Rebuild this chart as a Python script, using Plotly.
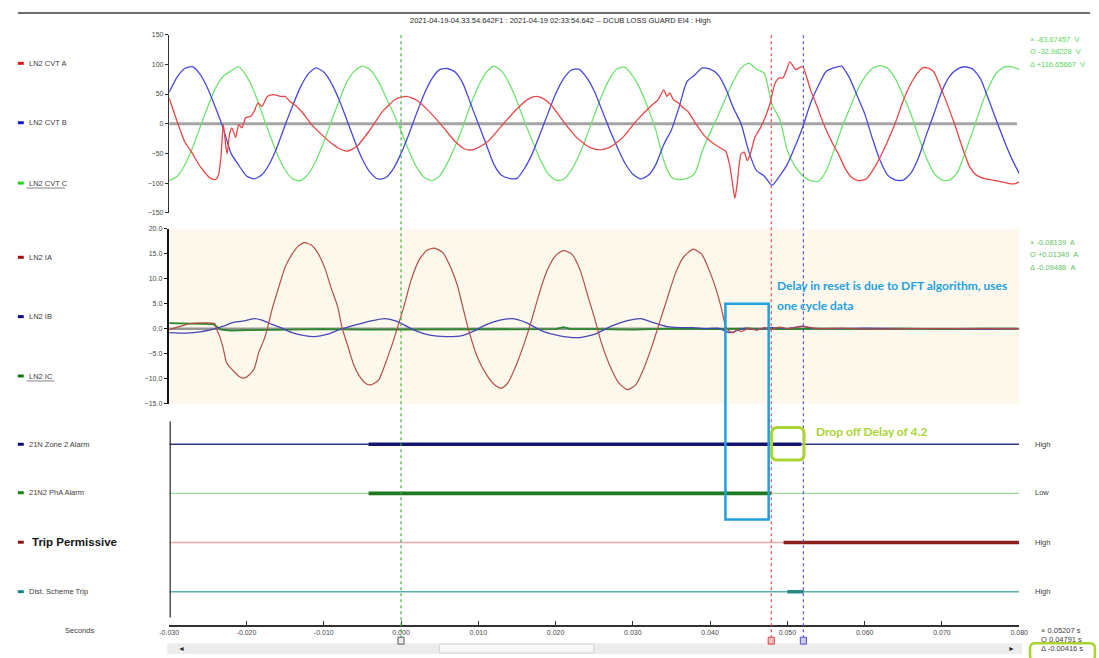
import plotly.graph_objects as go

W, H = 1099, 658


def px(x):
    return x / W


def py(y):
    return 1 - y / H


# ---------------- data ----------------
X_TICKS = [-0.03, -0.02, -0.01, 0.0, 0.01, 0.02, 0.03, 0.04, 0.05, 0.06, 0.07, 0.08]
X_TICK_TEXT = ["-0.030", "-0.020", "-0.010", "0.000", "0.010", "0.020",
               "0.030", "0.040", "0.050", "0.060", "0.070", "0.080"]
V_TICKS = [-150, -100, -50, 0, 50, 100, 150]
I_TICKS = [-15, -10, -5, 0, 5, 10, 15, 20]

# time grid in milliseconds for the smooth voltage phases
T_MS = list(range(-30, 81))

CVT_B = [53, 78, 93, 96, 83, 59, 27, -8, -50, -70,
         -88, -93, -86, -67, -38, -2, 31, 62, 84, 94,
         87, 68, 40, 6, -29, -60, -82, -93, -91, -76,
         -50, -18, 17, 50, 76, 91, 93, 87, 68, 34,
         0, -34, -68, -87, -92, -92, -75, -50, -17, 17,
         50, 75, 90, 92, 78, 55, 23, -10, -40, -67,
         -85, -93, -87, -68, -35, -10, 29, 71, 82, 94,
         92, 83, 60, 27, 0, -47, -79, -88, -104, -88,
         -68, -38, -5, 35, 64, 88, 94, 97, 78, 48,
         17, -25, -62, -87, -95, -95, -83, -56, -18, 18,
         55, 80, 92, 96, 92, 75, 42, 7, -27, -58,
         -84]

CVT_C = [-96, -89, -70, -41, -6, 29, 60, 80, 89, 96,
         80, 54, 18, -18, -52, -78, -93, -96, -85, -62,
         -31, 5, 39, 71, 89, 97, 91, 73, 46, 18,
         -12, -45, -73, -90, -96, -88, -66, -38, -5, 32,
         63, 86, 97, 89, 68, 38, 3, -29, -60, -84,
         -95, -94, -79, -54, -22, 14, 48, 76, 93, 95,
         80, 57, 25, -12, -62, -90, -94, -92, -84, -46,
         -15, 13, 43, 71, 94, 102, 92, 85, 32, 8,
         -45, -72, -88, -96, -97, -80, -46, -8, 24, 55,
         78, 93, 98, 93, 75, 47, 16, -23, -58, -84,
         -95, -95, -82, -48, -12, 27, 60, 85, 95, 96,
         91]

CVT_A_T = [-30, -29, -28, -27, -26, -25, -24.5, -24.0, -23.6, -23.3,
           -23.0, -22.7, -22.5, -22.2, -21.9, -21.4, -21.0, -20.6, -20.1, -19.4,
           -19.0, -18.5, -18.0, -17.3, -16.5, -15.6, -15.0, -14.4, -13.5, -12.7,
           -11.6, -10.3, -9.1, -7.8, -6.9, -5.7, -4.0, -2.3, -0.6, 0.7,
           2.0, 3.7, 5.4, 7.0, 8.3, 9.2, 10.0, 11.3, 13.0, 14.7,
           16.4, 17.5, 18.3, 19.4, 21.0, 22.7, 24.4, 25.7, 27.0, 28.7,
           30.4, 32.1, 33.3, 34.0, 34.4, 34.8, 35.2, 35.9, 36.5, 37.1,
           38.2, 39.3, 40.3, 41.6, 42.0, 42.5, 42.9, 43.2, 43.5, 44.0,
           44.4, 44.8, 45.2, 45.8, 46.5, 47.1, 47.7, 48.4, 48.9, 49.4,
           49.9, 50.3, 50.7, 51.1, 51.5, 52.0, 52.4, 53.0, 53.9, 54.7,
           55.8, 56.6, 57.5, 58.3, 59.2, 60.2, 61.3, 62.6, 63.9, 65.1,
           66.4, 67.5, 68.1, 68.9, 70.2, 71.5, 72.8, 73.6, 74.5, 75.7,
           77.4, 78.7, 79.5, 80.0]
CVT_A = [43, 5, -30, -50, -72, -88, -93, -94, -85, -55,
         -1, -35, -51, -18, -7, -23, -1, -7, 10, 13,
         21, 35, 29, 46, 49, 46, 46, 38, 29, 18,
         -1, -18, -32, -43, -46, -38, -10, 22, 42, 46,
         40, 20, -5, -30, -43, -44, -40, -29, -4, 21,
         41, 46, 43, 32, 4, -23, -40, -44, -40, -23,
         4, 27, 41, 57, 46, 52, 41, 35, 27, 21,
         -1, -21, -32, -43, -46, -68, -101, -126, -101, -51,
         -48, -62, -51, -23, -7, 10, 32, 68, 77, 77,
         91, 104, 98, 91, 94, 96, 82, 57, 27, -1,
         -32, -51, -76, -90, -96, -93, -73, -40, -1, 43,
         77, 94, 94, 88, 49, 4, -46, -73, -87, -93,
         -97, -101, -101, -98]

IA_T = [-30, -28.5, -27.3, -24.1, -23.9, -23.5, -23.0, -22.6, -22.2, -21.6,
        -20.9, -20.3, -19.7, -19.0, -18.4, -17.7, -17.3, -16.7, -15.8, -15.0,
        -14.1, -13.3, -12.5, -11.6, -10.8, -9.9, -9.1, -8.2, -7.6, -6.9,
        -6.1, -5.2, -4.4, -3.8, -2.9, -2.1, -1.2, -0.4, 0.5, 1.3,
        2.4, 3.4, 4.3, 5.4, 6.4, 7.3, 7.9, 8.7, 9.8, 11.1,
        12.1, 13.0, 13.8, 14.9, 16.0, 16.8, 17.9, 18.9, 20.0, 21.0,
        22.1, 23.2, 24.2, 25.1, 25.9, 27.0, 28.2, 29.3, 30.4, 31.4,
        32.5, 33.3, 34.4, 35.5, 36.5, 37.8, 38.9, 39.9, 40.8, 41.4,
        42.0, 42.5, 43.0, 43.5, 44.0, 45.0, 46.0, 47.0, 48.0, 49.0,
        50.0, 52.0, 54.0, 57.0, 60.0, 65.0, 70.0, 75.0, 80.0]
IA = [-0.2, 0.5, 1.0, 1.0, 0.0, -1.4, -4.0, -6.7, -7.6, -8.6,
      -9.6, -9.9, -9.3, -8.0, -4.7, -2.1, 0.0, 3.8, 8.4, 12.3,
      14.9, 16.5, 17.2, 16.7, 15.2, 12.3, 8.4, 4.4, 0.0, -3.4,
      -7.3, -9.9, -11.1, -11.2, -10.3, -7.3, -3.4, 0.5, 5.1, 9.7,
      13.9, 15.7, 16.1, 15.2, 12.3, 8.6, 4.9, 0.0, -5.4, -9.3,
      -11.2, -11.9, -10.9, -7.3, -2.7, 1.2, 7.1, 11.6, 14.6, 15.6,
      14.9, 11.6, 6.4, 1.8, -2.7, -7.3, -10.9, -12.2, -11.2, -8.0,
      -3.4, 0.5, 5.8, 11.0, 14.2, 15.9, 14.9, 11.6, 7.7, 4.4,
      0.5, -0.5, -0.8, -0.2, -0.6, 0.1, -0.3, 0.2, -0.1, 0.3,
      0.0, 0.4, 0.0, 0.1, -0.1, 0.0, 0.0, 0.0, 0.0]

IB_T = [-30, -27.7, -26, -24.3, -23, -21.8, -20.5, -19, -18, -16.7,
        -15.6, -14.1, -12.5, -11.2, -9.5, -7.8, -6.1, -4.0, -2.1, -0.6,
        0.7, 2.0, 3.7, 5.8, 7.9, 9.4, 11.1, 12.8, 14.5, 16.2,
        18.3, 20.4, 22.9, 25.1, 27.2, 29.3, 31.0, 32.7, 34.4, 36.1,
        37.8, 39.5, 41.0, 42.5, 43.3, 44.6, 46, 48, 50, 52,
        53, 56, 60, 65, 70, 75, 80]
IB = [-0.8, -0.9, -0.65, -0.1, 0.5, 1.2, 1.5, 2.0, 1.7, 0.85,
      0.2, -0.8, -1.4, -1.6, -1.1, -0.1, 0.65, 1.5, 2.0, 1.5,
      0.5, -0.5, -1.3, -1.6, -1.4, -0.5, 0.85, 1.7, 2.0, 1.2,
      -0.5, -1.4, -1.8, -1.1, 0.5, 1.6, 2.0, 1.2, 0.4, 0.2,
      0.2, 0.0, 0.1, -0.8, -0.5, 0.1, -0.2, 0.2, 0.0, 0.5,
      0.1, 0.0, 0.1, 0.0, 0.0, -0.1, 0.0]

IC_T = [-30, -25, -24.3, -23.3, -22, -20, -15, -10, -5, 0,
        5, 10, 15, 20, 21, 22, 25, 30, 35, 40,
        45, 50, 55, 60, 65, 70, 75, 80]
IC = [1.1, 1.0, 0.9, -0.2, -0.4, -0.3, -0.2, -0.1, -0.2, -0.2,
      -0.1, -0.1, -0.2, -0.1, 0.3, -0.1, -0.1, -0.2, 0.0, -0.1,
      0.0, -0.1, 0.0, -0.1, 0.0, -0.1, 0.0, 0.0]

# digital channels: [on, off] in seconds
DIGITAL_NAMES = ["21N Zone 2 Alarm", "21N2 PhA Alarm", "Trip Permissive", "Dist. Scheme Trip"]
DIGITAL_LEVEL = [4, 3, 2, 1]
DIGITAL_ON = [[-0.0042, 0.0518], [-0.0042, 0.0479], [0.0495, 0.0800], [0.0500, 0.0521]]
DIGITAL_STATE = ["High", "Low", "High", "High"]

X_MIN, X_MAX = -0.030, 0.080
CURSOR_REF = 0.0
CURSOR_O = 0.04791
CURSOR_X = 0.05207

V_READ = ["\u00d7 -83.67457  V", "O -32.98228  V", "\u0394 +116.65667  V"]
I_READ = ["\u00d7 -0.08139  A", "O +0.01349  A", "\u0394 -0.09488  A"]
T_READ = ["\u00d7 0.05207 s", "O 0.04791 s", "\u0394 -0.00416 s"]

TITLE = "2021-04-19-04.33.54.642F1 : 2021-04-19 02:33:54.642 -- DCUB LOSS GUARD EI4 : High"

# ---------------- styling ----------------
FONT = "Liberation Sans"
C_VA, C_VB, C_VC = "rgb(232,70,70)", "rgb(72,72,222)", "rgb(110,228,110)"
C_IA, C_IB, C_IC = "rgb(178,78,70)", "rgb(70,70,185)", "rgb(40,135,40)"
DIG_THIN = ["rgb(50,50,130)", "rgb(160,215,160)", "rgb(228,170,170)", "rgb(90,175,175)"]
DIG_THICK = ["rgb(20,20,110)", "rgb(30,120,30)", "rgb(140,30,30)", "rgb(40,135,135)"]
ANN_BLUE = "rgb(30,160,225)"
ANN_GREEN = "rgb(170,212,50)"


def ms(ts):
    return [t / 1000 for t in ts]


fig = go.Figure()

line_kw = dict(shape="spline", smoothing=0.6)
fig.add_trace(go.Scatter(x=ms(T_MS), y=CVT_C, mode="lines", line=dict(color=C_VC, width=1.3, **line_kw), yaxis="y", xaxis="x"))
fig.add_trace(go.Scatter(x=ms(T_MS), y=CVT_B, mode="lines", line=dict(color=C_VB, width=1.3, **line_kw), yaxis="y", xaxis="x"))
fig.add_trace(go.Scatter(x=ms(CVT_A_T), y=CVT_A, mode="lines", line=dict(color=C_VA, width=1.3, **line_kw), yaxis="y", xaxis="x"))

fig.add_trace(go.Scatter(x=ms(IC_T), y=IC, mode="lines", line=dict(color=C_IC, width=1.8), yaxis="y2", xaxis="x"))
fig.add_trace(go.Scatter(x=ms(IB_T), y=IB, mode="lines", line=dict(color=C_IB, width=1.3, **line_kw), yaxis="y2", xaxis="x"))
fig.add_trace(go.Scatter(x=ms(IA_T), y=IA, mode="lines", line=dict(color=C_IA, width=1.2, **line_kw), yaxis="y2", xaxis="x"))

for i in range(len(DIGITAL_NAMES)):
    lv = DIGITAL_LEVEL[i]
    fig.add_trace(go.Scatter(x=[X_MIN, X_MAX], y=[lv, lv], mode="lines",
                             line=dict(color=DIG_THIN[i], width=1.4), yaxis="y3", xaxis="x"))
    fig.add_trace(go.Scatter(x=DIGITAL_ON[i], y=[lv, lv], mode="lines",
                             line=dict(color=DIG_THICK[i], width=3.6), yaxis="y3", xaxis="x"))

shapes = []
# current panel background
shapes.append(dict(type="rect", xref="x", yref="y2", x0=X_MIN, x1=X_MAX, y0=-15, y1=20,
                   fillcolor="rgb(253,248,236)", line=dict(width=0), layer="below"))
# zero lines
shapes.append(dict(type="line", xref="x", yref="y", x0=X_MIN, x1=X_MAX - 0.0003, y0=0, y1=0,
                   line=dict(color="rgb(165,165,165)", width=3), layer="below"))
shapes.append(dict(type="line", xref="x", yref="y2", x0=X_MIN, x1=X_MAX - 0.0003, y0=0, y1=0,
                   line=dict(color="rgb(150,150,150)", width=2.5), layer="below"))
# digital panel axis line
shapes.append(dict(type="line", xref="paper", yref="paper", x0=px(163), x1=px(163), y0=py(620), y1=py(422),
                   line=dict(color="rgb(40,40,40)", width=1.2)))
# cursors
for xc, col in [(CURSOR_REF, "rgb(70,175,70)"), (CURSOR_O, "rgb(230,80,80)"), (CURSOR_X, "rgb(90,90,215)")]:
    shapes.append(dict(type="line", xref="x", yref="paper", x0=xc, x1=xc, y0=py(641), y1=py(31),
                       line=dict(color=col, width=1.2, dash="dot")))
# cursor flags below the axis
for xc, col, fill in [(CURSOR_REF, "rgb(90,90,90)", "rgb(235,235,235)"),
                      (CURSOR_O, "rgb(210,70,70)", "rgb(240,190,190)"),
                      (CURSOR_X, "rgb(80,80,200)", "rgb(200,200,240)")]:
    shapes.append(dict(type="rect", xref="x", yref="paper", x0=xc - 0.0004, x1=xc + 0.0004,
                       y0=py(647), y1=py(640), fillcolor=fill, line=dict(color=col, width=1)))
# top rule
shapes.append(dict(type="line", xref="paper", yref="paper", x0=px(8), x1=1, y0=py(9), y1=py(9),
                   line=dict(color="rgb(60,60,60)", width=1.5)))
# scrollbar
shapes.append(dict(type="rect", xref="paper", yref="paper", x0=px(160), x1=px(1030), y0=py(657), y1=py(646),
                   fillcolor="rgb(236,236,236)", line=dict(width=0), layer="below"))
shapes.append(dict(type="rect", xref="paper", yref="paper", x0=px(437), x1=px(594), y0=py(656), y1=py(647),
                   fillcolor="rgb(248,248,248)", line=dict(color="rgb(215,215,215)", width=1), layer="below"))
# legend swatches
LEG_ROWS = [(60, "rgb(225,20,20)"), (120, "rgb(20,20,200)"), (181, "rgb(30,210,30)"),
            (256, "rgb(160,10,10)"), (316, "rgb(10,10,130)"), (376, "rgb(10,120,10)"),
            (445, "rgb(10,10,110)"), (494, "rgb(20,130,20)"), (544, "rgb(130,20,20)"), (594, "rgb(20,130,130)")]
for yy, col in LEG_ROWS:
    shapes.append(dict(type="rect", xref="paper", yref="paper", x0=px(8), x1=px(14), y0=py(yy + 1.5), y1=py(yy - 1.5),
                       fillcolor=col, line=dict(width=0)))
# underlines
shapes.append(dict(type="line", xref="paper", yref="paper", x0=px(17), x1=px(56), y0=py(186), y1=py(186),
                   line=dict(color="rgb(130,130,130)", width=1)))
shapes.append(dict(type="line", xref="paper", yref="paper", x0=px(17), x1=px(45), y0=py(381), y1=py(381),
                   line=dict(color="rgb(130,130,130)", width=1)))
# annotation boxes
shapes.append(dict(type="rect", xref="paper", yref="paper", x0=px(728), x1=px(772), y0=py(521), y1=py(303),
                   line=dict(color=ANN_BLUE, width=2.5)))


def rounded(x0, y0, x1, y1, r):
    X0, X1 = px(x0), px(x1)
    Y0, Y1 = py(y0), py(y1)
    rx, ry = r / W, r / H
    return (f"M {X0 + rx},{Y0} L {X1 - rx},{Y0} Q {X1},{Y0} {X1},{Y0 - ry} "
            f"L {X1},{Y1 + ry} Q {X1},{Y1} {X1 - rx},{Y1} L {X0 + rx},{Y1} "
            f"Q {X0},{Y1} {X0},{Y1 + ry} L {X0},{Y0 - ry} Q {X0},{Y0} {X0 + rx},{Y0} Z")


shapes.append(dict(type="path", xref="paper", yref="paper", path=rounded(775, 428, 808, 461, 6),
                   line=dict(color=ANN_GREEN, width=3)))
shapes.append(dict(type="path", xref="paper", yref="paper", path=rounded(1038, 646, 1104, 664, 5),
                   line=dict(color=ANN_GREEN, width=2.5)))

annotations = []


def txt(x, y, s, size=7.5, color="rgb(60,60,60)", anchor="left", family=FONT):
    annotations.append(dict(xref="paper", yref="paper", x=px(x), y=py(y), text=s, showarrow=False,
                            xanchor=anchor, yanchor="middle", font=dict(size=size, color=color, family=family)))


txt(560, 17, TITLE, size=7.5, color="rgb(40,40,40)", anchor="center")
LEFT_LABELS = [(60, "LN2 CVT A"), (120, "LN2 CVT B"), (181, "LN2 CVT C"),
               (256, "LN2 IA"), (316, "LN2 IB"), (376, "LN2 IC"),
               (445, "21N Zone 2 Alarm"), (494, "21N2 PhA Alarm"), (594, "Dist. Scheme Trip")]
for yy, s in LEFT_LABELS:
    txt(17, yy, s)
txt(20, 544, "<b>Trip Permissive</b>", size=11.5, color="rgb(20,20,20)")
txt(88, 633, "Seconds", anchor="right")

for i, yy in enumerate([445, 494, 544, 594]):
    txt(1041, yy, DIGITAL_STATE[i])
for i, s in enumerate(V_READ):
    txt(1036, 36 + 12.5 * i, s, size=7.5, color="rgb(90,215,90)")
for i, s in enumerate(I_READ):
    txt(1036, 241 + 12.5 * i, s, size=7.5, color="rgb(100,190,100)")
txt(1047, 633, T_READ[0])
txt(1047, 642, T_READ[1])
txt(1047, 651.5, T_READ[2])
txt(175, 651.5, "\u25c4", size=7, color="rgb(40,40,40)", anchor="center")
txt(1019, 651.5, "\u25ba", size=7, color="rgb(40,40,40)", anchor="center")

ANN_FONT = "Lato"
txt(778, 285, "<b>Delay in reset is due to DFT algorithm, uses</b>", size=12, color=ANN_BLUE, family=ANN_FONT)
txt(778, 305, "<b>one cycle data</b>", size=12, color=ANN_BLUE, family=ANN_FONT)
txt(818, 432, "<b>Drop off Delay of 4.2</b>", size=12, color=ANN_GREEN, family=ANN_FONT)

axis_font = dict(size=7, color="rgb(70,70,70)", family=FONT)
fig.update_layout(
    width=W, height=H,
    margin=dict(l=0, r=0, t=0, b=0),
    paper_bgcolor="white", plot_bgcolor="white",
    showlegend=False,
    hovermode=False,
    shapes=shapes,
    annotations=annotations,
    xaxis=dict(domain=[px(162), px(1027)], range=[X_MIN, X_MAX], anchor="y3",
               showline=True, linecolor="rgb(50,50,50)", linewidth=1.5,
               ticks="inside", ticklen=4, tickcolor="rgb(50,50,50)",
               tickvals=X_TICKS, ticktext=X_TICK_TEXT, tickfont=axis_font,
               showgrid=False, zeroline=False),
    yaxis=dict(domain=[py(211), py(31)], range=[-150, 150], anchor="x",
               showline=True, linecolor="rgb(50,50,50)", linewidth=1.3,
               ticks="outside", ticklen=3, tickcolor="rgb(50,50,50)",
               tickvals=V_TICKS, tickfont=axis_font, showgrid=False, zeroline=False),
    yaxis2=dict(domain=[py(404), py(227)], range=[-15, 20], anchor="x",
                showline=True, linecolor="rgb(20,20,20)", linewidth=2.5,
                ticks="outside", ticklen=3, tickcolor="rgb(20,20,20)",
                tickvals=I_TICKS, tickformat=".1f", tickfont=axis_font,
                showgrid=False, zeroline=False),
    yaxis3=dict(domain=[py(628), py(422)], range=[0.3155, 4.463], anchor="x",
                visible=False, showgrid=False, zeroline=False),
)

fig.write_html(
    "out.html",
    config={"displayModeBar": False, "staticPlot": True},
    post_script=("document.body.style.margin='0px';document.body.style.padding='0px';"
                 "document.documentElement.style.overflow='hidden';document.body.style.overflow='hidden';"),
)
